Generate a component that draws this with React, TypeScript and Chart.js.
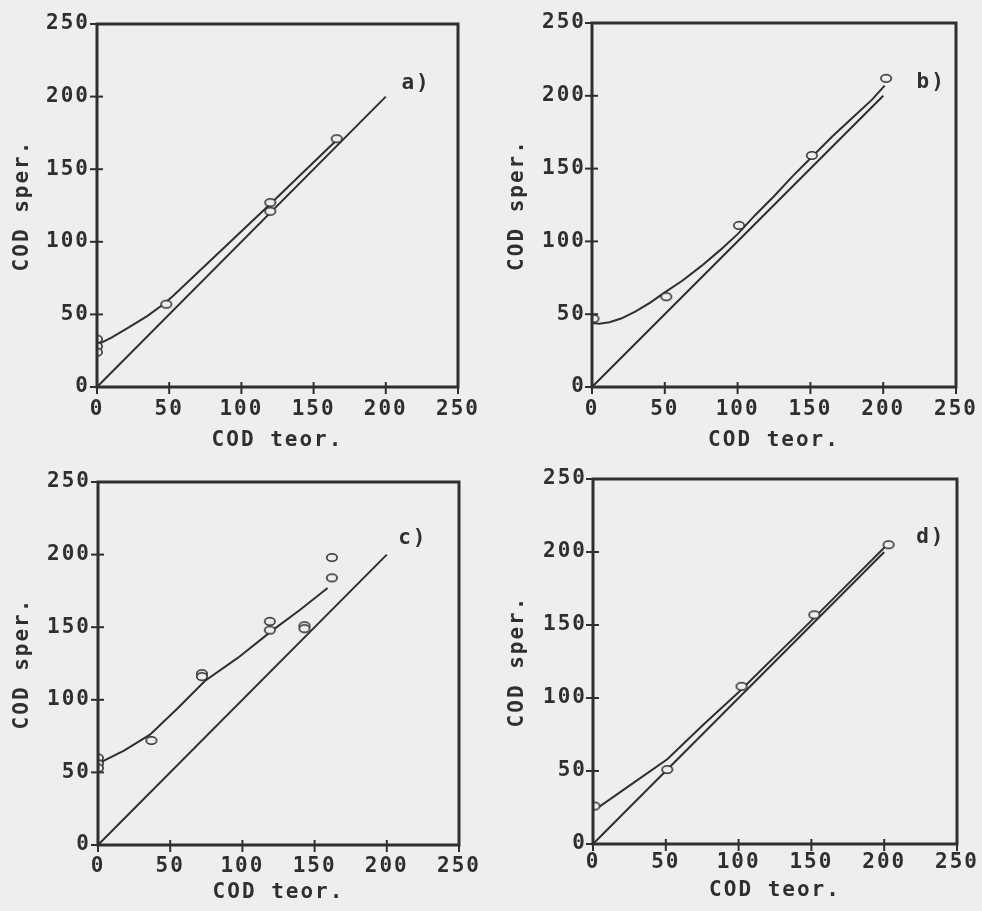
import React, { useEffect, useRef } from 'react';
import { Chart, registerables } from 'chart.js';

Chart.register(...registerables);

// ---------- shared axis data ----------
const axisTicks = [0, 50, 100, 150, 200, 250];
const xTitle = 'COD teor.';
const yTitle = 'COD sper.';

// bisector (y = x) drawn in every panel
const bisectorX = [0, 200];
const bisectorY = [0, 200];

// ---------- panel a ----------
const aDatiX = [0, 0, 0, 48, 120, 120, 166];
const aDatiY = [33, 28, 24, 57, 127, 121, 171];
const aFitX = [0, 10, 22, 35, 46, 53, 70, 120, 168];
const aFitY = [29, 34, 41, 49, 57, 63, 79, 126, 172];

// ---------- panel b ----------
const bDatiX = [1, 51, 101, 151, 202];
const bDatiY = [47, 62, 111, 159, 212];
const bFitX = [0, 5, 12, 20, 30, 40, 50, 62, 75, 88, 100, 112, 125, 138, 152, 165, 180, 192, 201];
const bFitY = [44, 43.5, 44.5, 47, 52, 58, 65, 73, 83, 94, 105, 118, 131, 145, 159, 172, 186, 197, 207];

// ---------- panel c ----------
const cDatiX = [0, 0, 0, 37, 72, 72, 119, 119, 143, 143, 162, 162];
const cDatiY = [60, 56, 53, 72, 118, 116, 154, 148, 151, 149, 198, 184];
const cFitX = [0, 18, 36, 55, 74, 97, 121, 140, 159];
const cFitY = [56, 65, 76, 94, 113, 129, 148, 162, 177];

// ---------- panel d ----------
const dDatiX = [1, 51, 102, 152, 203];
const dDatiY = [26, 51, 108, 157, 205];
const dFitX = [0, 5, 28, 51, 75, 100, 150, 175, 202];
const dFitY = [24, 26, 42, 58, 81, 104, 153, 178, 205];

const panelLabels = ['a)', 'b)', 'c)', 'd)'];

// ---------- styling ----------
const BG = '#eeeeec';
const INK = '#2f2f2f';
const FONT_FAMILY = "'DejaVu Sans Mono', monospace";
const FONT_SIZE = 21;
const LETTER_SPACING = '2px';

type Layout = {
  canvasLeft: number; canvasTop: number; w: number; h: number;
  areaLeft: number; areaTop: number; areaRight: number; areaBottom: number;
  xTickPad: number; yTickPad: number; xTitlePadBottom: number; yTitlePadTop: number;
  labelX: number; labelY: number;
};

const layouts: Layout[] = [
  { canvasLeft: 0, canvasTop: 0, w: 491, h: 455, areaLeft: 97, areaTop: 24, areaRight: 458, areaBottom: 387,
    xTickPad: 10, yTickPad: 7, xTitlePadBottom: 1.5, yTitlePadTop: 10, labelX: 221, labelY: 209 },
  { canvasLeft: 491, canvasTop: 0, w: 491, h: 455, areaLeft: 101, areaTop: 23, areaRight: 465, areaBottom: 387,
    xTickPad: 10, yTickPad: 6, xTitlePadBottom: 1.5, yTitlePadTop: 14, labelX: 233, labelY: 209 },
  { canvasLeft: 0, canvasTop: 455, w: 491, h: 456, areaLeft: 98, areaTop: 27, areaRight: 459, areaBottom: 390,
    xTickPad: 9, yTickPad: 7, xTitlePadBottom: 6, yTitlePadTop: 10, labelX: 218, labelY: 211 },
  { canvasLeft: 491, canvasTop: 455, w: 491, h: 456, areaLeft: 102, areaTop: 24, areaRight: 466, areaBottom: 389,
    xTickPad: 6, yTickPad: 6, xTitlePadBottom: 7.5, yTitlePadTop: 14, labelX: 232, labelY: 210 },
];

const series = [
  { dx: aDatiX, dy: aDatiY, fx: aFitX, fy: aFitY },
  { dx: bDatiX, dy: bDatiY, fx: bFitX, fy: bFitY },
  { dx: cDatiX, dy: cDatiY, fx: cFitX, fy: cFitY },
  { dx: dDatiX, dy: dDatiY, fx: dFitX, fy: dFitY },
];

const zip = (xs: number[], ys: number[]) => xs.map((x, i) => ({ x, y: ys[i] }));

function makeEllipse(): HTMLCanvasElement {
  const c = document.createElement('canvas');
  c.width = 14;
  c.height = 11;
  const g = c.getContext('2d')!;
  g.fillStyle = BG;
  g.strokeStyle = INK;
  g.lineWidth = 1.6;
  g.beginPath();
  g.ellipse(7, 5.5, 5.2, 3.8, 0, 0, Math.PI * 2);
  g.fill();
  g.stroke();
  return c;
}

const spacingPlugin = {
  id: 'spacing',
  beforeDraw(chart: any) { (chart.ctx as any).letterSpacing = LETTER_SPACING; },
};

function framePlugin(label: string, lx: number, ly: number) {
  return {
    id: 'frame',
    afterDatasetsDraw(chart: any) {
      const { ctx, chartArea } = chart;
      const xs = chart.scales.x;
      const ys = chart.scales.y;
      ctx.save();
      ctx.strokeStyle = INK;
      ctx.lineWidth = 3;
      ctx.strokeRect(chartArea.left, chartArea.top, chartArea.right - chartArea.left, chartArea.bottom - chartArea.top);
      ctx.lineWidth = 2;
      for (const v of axisTicks) {
        const px = xs.getPixelForValue(v);
        ctx.beginPath();
        ctx.moveTo(px, chartArea.bottom - 5);
        ctx.lineTo(px, chartArea.bottom + 7);
        ctx.stroke();
        const py = ys.getPixelForValue(v);
        ctx.beginPath();
        ctx.moveTo(chartArea.left - 7, py);
        ctx.lineTo(chartArea.left + 6, py);
        ctx.stroke();
      }
      ctx.fillStyle = INK;
      ctx.font = `bold ${FONT_SIZE}px ${FONT_FAMILY}`;
      ctx.textAlign = 'center';
      ctx.textBaseline = 'middle';
      ctx.fillText(label, xs.getPixelForValue(lx), ys.getPixelForValue(ly));
      ctx.restore();
    },
  };
}

function Panel({ idx }: { idx: number }) {
  const ref = useRef<HTMLCanvasElement | null>(null);
  const L = layouts[idx];
  useEffect(() => {
    if (!ref.current) return;
    const s = series[idx];
    const font = { family: FONT_FAMILY, size: FONT_SIZE, weight: 'bold', lineHeight: 1.2 };
    const chart = new Chart(ref.current, {
      type: 'scatter',
      data: {
        datasets: [
          {
            label: 'y = x',
            data: zip(bisectorX, bisectorY),
            showLine: true,
            borderColor: INK,
            borderWidth: 2,
            pointRadius: 0,
            order: 3,
          },
          {
            label: 'fit',
            data: zip(s.fx, s.fy),
            showLine: true,
            borderColor: INK,
            borderWidth: 2,
            pointRadius: 0,
            tension: 0,
            order: 2,
          },
          {
            label: 'dati',
            data: zip(s.dx, s.dy),
            showLine: false,
            pointStyle: makeEllipse(),
            pointRadius: 6,
            order: 1,
          },
        ],
      } as any,
      options: {
        animation: false,
        responsive: false,
        maintainAspectRatio: false,
        devicePixelRatio: 1,
        layout: { padding: { left: 0, top: L.areaTop, right: L.w - L.areaRight, bottom: 0 } },
        plugins: { legend: { display: false }, tooltip: { enabled: false } },
        scales: {
          x: {
            type: 'linear',
            min: 0,
            max: 250,
            afterBuildTicks: (sc: any) => { sc.ticks = axisTicks.map((v) => ({ value: v })); },
            afterFit: (sc: any) => {
              sc.height = L.h - L.areaBottom;
              sc.paddingLeft = 0; sc.paddingRight = 0; sc.paddingTop = 0; sc.paddingBottom = 0;
            },
            grid: { display: false, drawTicks: false },
            border: { display: false },
            ticks: { color: INK, font, padding: L.xTickPad, maxRotation: 0, autoSkip: false },
            title: { display: true, text: xTitle, color: INK, font, padding: { top: 0, bottom: L.xTitlePadBottom } },
          },
          y: {
            type: 'linear',
            min: 0,
            max: 250,
            afterBuildTicks: (sc: any) => { sc.ticks = axisTicks.map((v) => ({ value: v })); },
            afterFit: (sc: any) => {
              sc.width = L.areaLeft;
              sc.paddingLeft = 0; sc.paddingRight = 0; sc.paddingTop = 0; sc.paddingBottom = 0;
            },
            grid: { display: false, drawTicks: false },
            border: { display: false },
            ticks: { color: INK, font, padding: L.yTickPad, autoSkip: false },
            title: { display: true, text: yTitle, color: INK, font, padding: { top: L.yTitlePadTop, bottom: 0 } },
          },
        },
      } as any,
      plugins: [spacingPlugin, framePlugin(panelLabels[idx], L.labelX, L.labelY)],
    });
    return () => chart.destroy();
  }, [idx]);
  return (
    <canvas
      ref={ref}
      width={L.w}
      height={L.h}
      style={{ position: 'absolute', left: L.canvasLeft, top: L.canvasTop, width: L.w, height: L.h }}
    />
  );
}

export default function App() {
  return (
    <div style={{ position: 'absolute', left: 0, top: 0, width: 982, height: 911, background: BG, overflow: 'hidden' }}>
      {[0, 1, 2, 3].map((i) => (
        <Panel key={i} idx={i} />
      ))}
    </div>
  );
}
